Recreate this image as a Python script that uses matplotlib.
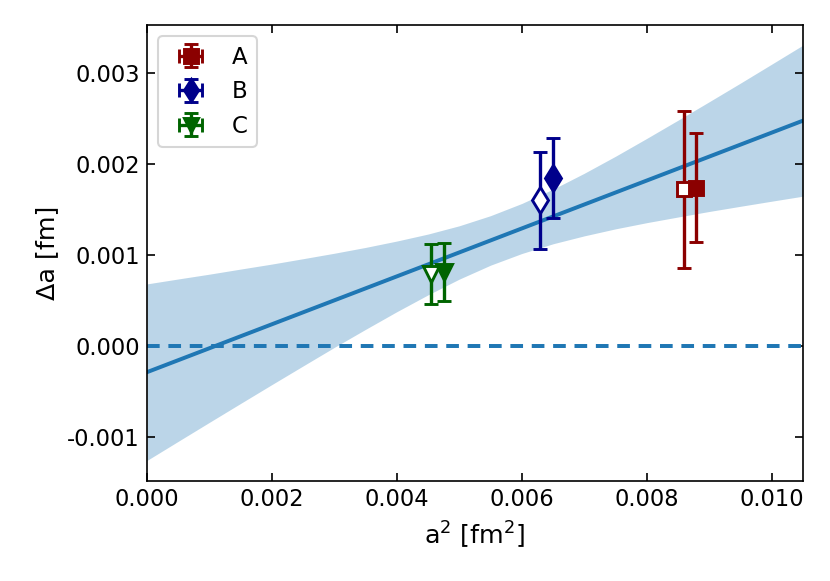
import matplotlib
matplotlib.use("Agg")
import matplotlib.pyplot as plt
from matplotlib.ticker import FormatStrFormatter
import numpy as np

plt.rcParams['axes.unicode_minus'] = False
plt.rcParams['font.family'] = ['DejaVu Sans']

# ---- data ----
labels = ["A", "B", "C"]
colors = ["darkred", "darkblue", "darkgreen"]
markers = ["s", "d", "v"]
msizes = [7, 8.5, 7.5]

# filled points
x_filled = [0.00879, 0.00650, 0.00475]
y_filled = [0.001737, 0.001845, 0.000816]
yerr_filled = [0.00060, 0.00044, 0.00032]

# open points
x_open = [0.00859, 0.00629, 0.00455]
y_open = [0.001720, 0.001600, 0.000795]
yerr_open = [0.00086, 0.00053, 0.00033]

# fit line end points
fit_x = [0.0, 0.0105]
fit_y = [-0.000288, 0.002476]

# fit error band
band_x = [0.0, 0.0005, 0.0010, 0.0015, 0.0020, 0.0025, 0.0030, 0.0035, 0.0040,
          0.0045, 0.0050, 0.0055, 0.0060, 0.0065, 0.0070, 0.0075, 0.0080,
          0.0085, 0.0090, 0.0095, 0.0100, 0.0105]
band_upper = [0.000682, 0.000736, 0.000789, 0.000845, 0.000900, 0.000959,
              0.001019, 0.001083, 0.001153, 0.001230, 0.001321, 0.001432,
              0.001566, 0.001723, 0.001898, 0.002085, 0.002281, 0.002481,
              0.002684, 0.002889, 0.003097, 0.003306]
band_lower = [-0.001258, -0.001048, -0.000839, -0.000631, -0.000424, -0.000219,
              -0.000015, 0.000183, 0.000377, 0.000562, 0.000735, 0.000888,
              0.001016, 0.001123, 0.001210, 0.001287, 0.001355, 0.001417,
              0.001478, 0.001535, 0.001591, 0.001646]

xticks = [0.000, 0.002, 0.004, 0.006, 0.008, 0.010]
yticks = [-0.001, 0.000, 0.001, 0.002, 0.003]

# ---- figure ----
dpi = 150
fig = plt.figure(figsize=(830 / dpi, 581 / dpi), dpi=dpi)
ax = fig.add_axes([147 / 830, 1 - 481 / 581, (803 - 147) / 830, (481 - 25) / 581])

ax.fill_between(band_x, band_lower, band_upper, color="C0", alpha=0.3, linewidth=0)
ax.plot(fit_x, fit_y, color="C0", lw=1.9)
ax.axhline(0.0, color="C0", ls="--", lw=1.9, dashes=(3.2, 2.2))

for i in range(3):
    ax.errorbar(x_open[i], y_open[i], yerr=yerr_open[i], fmt=markers[i],
                color=colors[i], mfc="white", mec=colors[i], ms=msizes[i], mew=1.4,
                capsize=3.2, elinewidth=1.6, capthick=1.6)
    ax.errorbar(x_filled[i], y_filled[i], yerr=yerr_filled[i], xerr=0,
                fmt=markers[i], color=colors[i], ms=msizes[i], mew=1.4,
                capsize=3.2, elinewidth=1.6, capthick=1.6, label=labels[i])

ax.set_xlim(0.0, 0.0105)
ax.set_ylim(-0.001484, 0.003527)
ax.set_xticks(xticks)
ax.set_yticks(yticks)
ax.xaxis.set_major_formatter(FormatStrFormatter("%.3f"))
ax.yaxis.set_major_formatter(FormatStrFormatter("%.3f"))
ax.tick_params(direction="in", top=True, right=True, length=4, labelsize=10.8)
ax.set_xlabel(r"a$^2$ [fm$^2$]", fontsize=12.2)
ax.set_ylabel(r"Δa [fm]", fontsize=12.2)

ax.legend(loc="upper left", fontsize=11.0, markerscale=0.9, handlelength=2.0)

fig.savefig("out.png", dpi=dpi)
